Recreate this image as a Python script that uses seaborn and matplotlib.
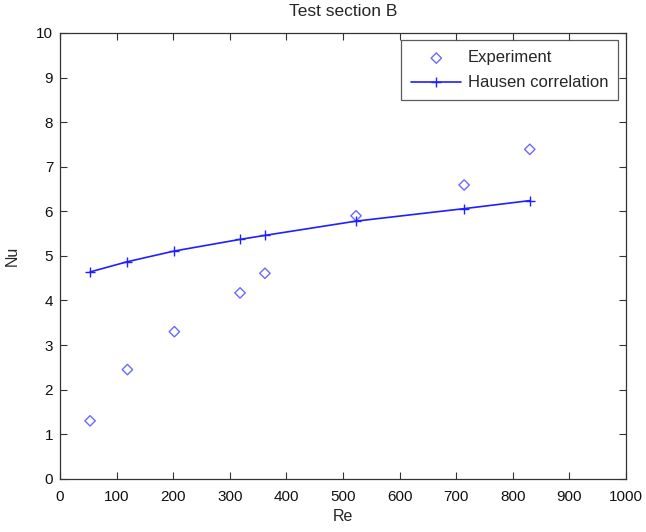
import matplotlib
matplotlib.use("Agg")
import matplotlib.pyplot as plt
import seaborn as sns
import pandas as pd

re_vals = [53, 119, 202, 318, 362, 523, 714, 830]
nu_exp = [1.30, 2.45, 3.30, 4.17, 4.61, 5.90, 6.59, 7.39]
nu_hausen = [4.64, 4.87, 5.11, 5.37, 5.46, 5.78, 6.06, 6.24]

sns.set_style("white")
plt.rcParams['font.family'] = ['Liberation Sans', 'DejaVu Sans']

df = pd.DataFrame({"Re": re_vals, "Experiment": nu_exp, "Hausen": nu_hausen})

fig = plt.figure(figsize=(6.46, 5.32), dpi=100)
ax = fig.add_axes([0.093, 0.1, 0.876, 0.838])

sns.scatterplot(data=df, x="Re", y="Experiment", ax=ax, marker="D", s=28,
                facecolor="none", edgecolor="#6a6aff", linewidth=1.0,
                label="Experiment")
sns.lineplot(data=df, x="Re", y="Hausen", ax=ax, color="#1f1fff", linewidth=1.2,
             marker="+", markersize=7, markeredgewidth=1.0, markeredgecolor="#1f1fff",
             label="Hausen correlation")

ax.set_xlim(0, 1000)
ax.set_ylim(0, 10)
ax.set_xticks(range(0, 1001, 100))
ax.set_yticks(range(0, 11))
ax.tick_params(direction="in", length=5, width=0.8, labelsize=11, color="#333333",
               labelcolor="#111111", top=True, right=True, bottom=True, left=True, pad=5)
ax.tick_params(axis="x", pad=8)
for s in ax.spines.values():
    s.set_color("#333333")
    s.set_linewidth(0.9)
ax.set_xlabel("Re", fontsize=11.5, labelpad=4)
ax.set_ylabel("Nu", fontsize=11.5, labelpad=12)
ax.set_title("Test section B", fontsize=12.5, pad=12)

leg = ax.legend(loc="upper right", fontsize=12, frameon=True, fancybox=False,
                edgecolor="#333333", borderaxespad=0.45, handlelength=3.0,
                handletextpad=0.4, borderpad=0.6, labelspacing=0.6)
leg.get_frame().set_linewidth(0.9)

fig.savefig("out.png", dpi=100)
